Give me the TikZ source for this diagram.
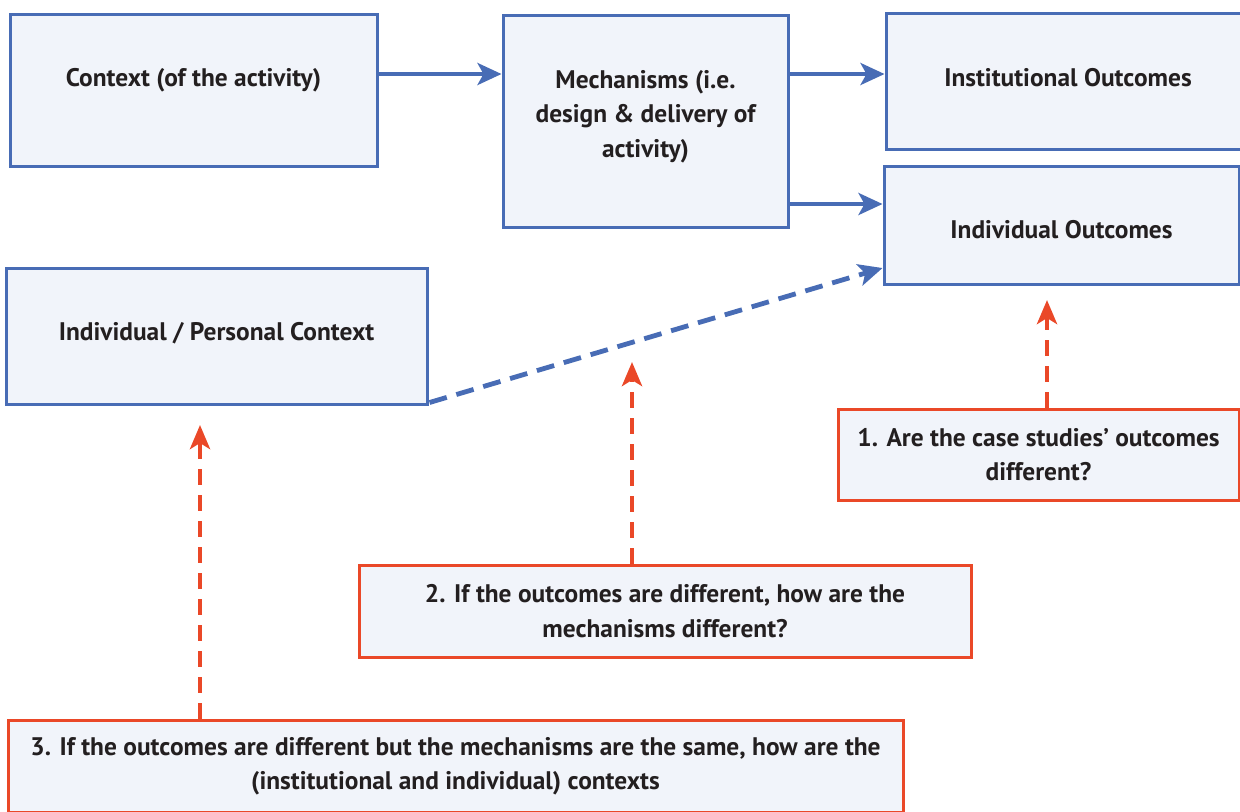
\documentclass[tikz,border=0pt]{standalone}
\usepackage{fontspec}
\setmainfont{PT Sans}
\usetikzlibrary{arrows.meta}
\definecolor{boxblue}{RGB}{72,108,181}
\definecolor{boxfill}{RGB}{241,244,250}
\definecolor{qred}{RGB}{234,72,40}
\definecolor{txt}{RGB}{35,31,32}
\newcommand{\lift}[2]{\raisebox{#1}[\height][\depth]{#2}}
\tikzset{
  ctxbox/.style={draw=boxblue, line width=1.5pt, fill=boxfill, text=txt, align=center,
    font=\bfseries\fontsize{12.7}{17.25}\selectfont, inner sep=0pt},
  qbox/.style={ctxbox, draw=qred},
  flow/.style={draw=boxblue, line width=2pt, -{Stealth[length=12pt,width=11pt,inset=3pt]}},
  ask/.style={draw=qred, line width=2.4pt, dash pattern=on 8pt off 5pt, -{Stealth[length=12pt,width=10pt,inset=3pt]}}
}
\begin{document}
\begin{tikzpicture}[x=0.5pt, y=-0.5pt]
    \useasboundingbox (0,0) rectangle (1240,811);
    \node[ctxbox, minimum width=183.5pt, minimum height=76pt] (ctx) at (193.5,90) {\lift{5pt}{Context (of the activity)}};
    \node[ctxbox, minimum width=142.5pt, minimum height=106pt, text depth=7.5pt] (mech) at (645.5,121) {Mechanisms (i.e.\\design \& delivery of\\activity)};
    \node[ctxbox, minimum width=182pt, minimum height=68pt] (inst) at (1068,81) {\lift{1.5pt}{Institutional Outcomes}};
    \node[ctxbox, minimum width=177.5pt, minimum height=59pt] (indout) at (1061.5,225) {\lift{-2.5pt}{Individual Outcomes}};
    \node[ctxbox, minimum width=210.5pt, minimum height=68pt] (pers) at (216.5,336) {\lift{1.5pt}{Individual / Personal Context}};
    \node[qbox, minimum width=200.5pt, minimum height=45.5pt] (q1) at (1038.5,454.5) {1. Are the case studies' outcomes\\different?};
    \node[qbox, minimum width=306pt, minimum height=46pt] (q2) at (665,611) {2. If the outcomes are different, how are the\\mechanisms different?};
    \node[qbox, minimum width=447.5pt, minimum height=46pt] (q3) at (455.5,766) {3. If the outcomes are different but the mechanisms are the same, how are the\\(institutional and individual) contexts};
    \coordinate (t1) at (1047,300);
    \coordinate (t2) at (632,362);
    \coordinate (t3) at (200,425);
    \draw[flow] (ctx.east |- 0,74) -- (mech.west |- 0,74);
    \draw[flow] (mech.east |- 0,74) -- (inst.west |- 0,74);
    \draw[flow] (mech.east |- 0,204) -- (indout.west |- 0,204);
    \draw[flow, line width=2.4pt, dash pattern=on 9pt off 5pt] ([shift={(1,-3)}]pers.south east) -- (indout.west |- 0,268);
    \draw[ask] (q1.north -| t1) -- (t1);
    \draw[ask] (q2.north -| t2) -- (t2);
    \draw[ask] (q3.north -| t3) -- (t3);
\end{tikzpicture}
\end{document}
